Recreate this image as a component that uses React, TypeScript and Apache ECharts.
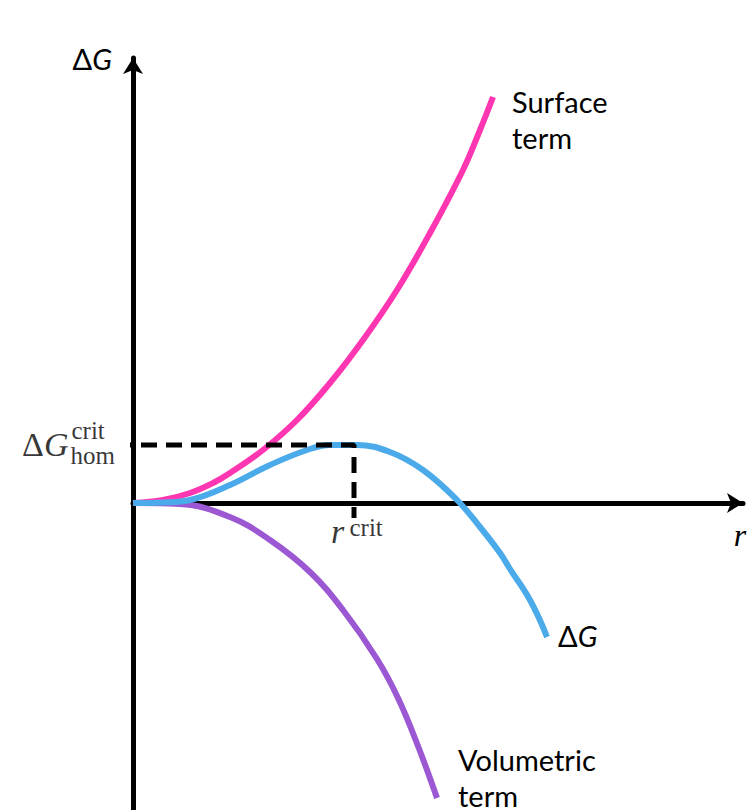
import React, { useEffect, useRef } from 'react';
import * as echarts from 'echarts';

// Curves (r, ΔG), in arbitrary units
const surfaceTerm: [number, number][] = [
  [0, 0], [30, 3], [57, 10], [80, 20], [97, 30], [130, 53], [164, 83], [197, 120],
  [230, 163], [264, 213], [297, 270], [330, 333], [347, 373], [360, 406],
];
const volumetricTerm: [number, number][] = [
  [0, 0], [47, -1], [97, -14], [137, -37], [177, -69], [210, -107], [244, -156],
  [265, -195], [285, -243], [304, -295],
];
const deltaG: [number, number][] = [
  [0, 0], [30, 0.5], [57, 3], [97, 18], [137, 38], [174, 53], [197, 58],
  [224, 58], [257, 51], [290, 33], [324, 3], [347, -24], [367, -50],
  [377, -66], [397, -97], [414, -134],
];
const critR = 221;
const critG = 58;
const dashLeftX = -17;
const dashBottomY = -15;
const xRange: [number, number] = [0, 610];
const yRange: [number, number] = [-307, 445];

const SANS = 'Lato, "Liberation Sans", sans-serif';
const SERIF = '"Liberation Serif", "DejaVu Serif", serif';

export default function App() {
  const ref = useRef<HTMLDivElement>(null);
  useEffect(() => {
    const chart = echarts.init(ref.current!, null, { renderer: 'svg' });
    const axisLine = {
      show: true,
      onZero: true,
      symbol: ['none', 'arrow'],
      symbolSize: [15, 16],
      lineStyle: { color: '#000', width: 5 },
    };
    const hidden = {
      axisTick: { show: false },
      axisLabel: { show: false },
      splitLine: { show: false },
    };
    const sansDG = {
      d: { fontFamily: SANS, fontSize: 29, color: '#000' },
      g: { fontFamily: SANS, fontSize: 29, fontStyle: 'italic', color: '#000' },
    };
    const curve = {
      type: 'line',
      smooth: 0.4,
      showSymbol: false,
      clip: false,
    };
    chart.setOption({
      animation: false,
      backgroundColor: '#ffffff',
      grid: { left: 133, right: 9, top: 58, bottom: 0, containLabel: false },
      xAxis: {
        type: 'value',
        min: xRange[0],
        max: xRange[1],
        axisLine,
        ...hidden,
        name: 'r',
        nameLocation: 'end',
        nameGap: 0,
        nameTextStyle: {
          fontFamily: SERIF,
          fontStyle: 'italic',
          fontSize: 32,
          color: '#000',
          align: 'center',
          verticalAlign: 'top',
          padding: [16, 6, 0, 0],
        },
      },
      yAxis: {
        type: 'value',
        min: yRange[0],
        max: yRange[1],
        axisLine,
        ...hidden,
        name: '{d|Δ}{g|G}',
        nameLocation: 'end',
        nameGap: 0,
        nameTextStyle: {
          align: 'right',
          verticalAlign: 'middle',
          padding: [0, 21, 0, 0],
          rich: sansDG,
        },
      },
      series: [
        {
          ...curve,
          name: 'Surface term',
          data: surfaceTerm,
          lineStyle: { color: '#FF36B2', width: 6 },
          endLabel: {
            show: true,
            formatter: 'Surface\nterm',
            fontFamily: SANS,
            fontSize: 29,
            lineHeight: 36,
            color: '#000',
            distance: 0,
            offset: [19, 22],
          },
        },
        {
          ...curve,
          name: 'Volumetric term',
          data: volumetricTerm,
          lineStyle: { color: '#9B58D2', width: 6 },
          endLabel: {
            show: true,
            formatter: 'Volumetric\nterm',
            fontFamily: SANS,
            fontSize: 29,
            lineHeight: 36,
            color: '#000',
            distance: 0,
            offset: [21, -21],
          },
        },
        {
          ...curve,
          name: 'ΔG',
          data: deltaG,
          lineStyle: { color: '#4AAAEA', width: 6 },
          endLabel: {
            show: true,
            formatter: '{d|Δ}{g|G}',
            rich: sansDG,
            distance: 0,
            offset: [11, -2],
          },
        },
        {
          name: 'critical',
          type: 'line',
          data: [[dashLeftX, critG], [critR, critG], [critR, dashBottomY]],
          showSymbol: false,
          clip: false,
          z: 5,
          lineStyle: { color: '#000', width: 5, type: [16, 9] },
        },
        {
          name: 'annotations',
          type: 'scatter',
          symbolSize: 1,
          clip: false,
          z: 6,
          itemStyle: { color: 'rgba(0,0,0,0)' },
          silent: true,
          data: [
            {
              value: [dashLeftX, critG],
              label: {
                show: true, formatter: 'Δ{g|G}', position: [-47, 0], align: 'right', verticalAlign: 'middle',
                fontFamily: SERIF, fontSize: 34, color: '#000',
                rich: { g: { fontFamily: SERIF, fontSize: 34, fontStyle: 'italic', color: '#000' } },
              },
            },
            {
              value: [dashLeftX, critG],
              label: {
                show: true, formatter: 'crit', position: [-44, -14], align: 'left', verticalAlign: 'middle',
                fontFamily: SERIF, fontSize: 25, color: '#000',
              },
            },
            {
              value: [dashLeftX, critG],
              label: {
                show: true, formatter: 'hom', position: [-45, 11], align: 'left', verticalAlign: 'middle',
                fontFamily: SERIF, fontSize: 25, color: '#000',
              },
            },
            {
              value: [critR, dashBottomY],
              label: {
                show: true, formatter: 'r', position: [-16, 14], align: 'center', verticalAlign: 'middle',
                fontFamily: SERIF, fontStyle: 'italic', fontSize: 34, color: '#000',
              },
            },
            {
              value: [critR, dashBottomY],
              label: {
                show: true, formatter: 'crit', position: [-4, 10], align: 'left', verticalAlign: 'middle',
                fontFamily: SERIF, fontSize: 25, color: '#000',
              },
            },
          ],
        },
      ],
    });
    return () => chart.dispose();
  }, []);
  return (
    <div
      ref={ref}
      style={{ position: 'absolute', left: 0, top: 0, width: 752, height: 810 }}
    />
  );
}
